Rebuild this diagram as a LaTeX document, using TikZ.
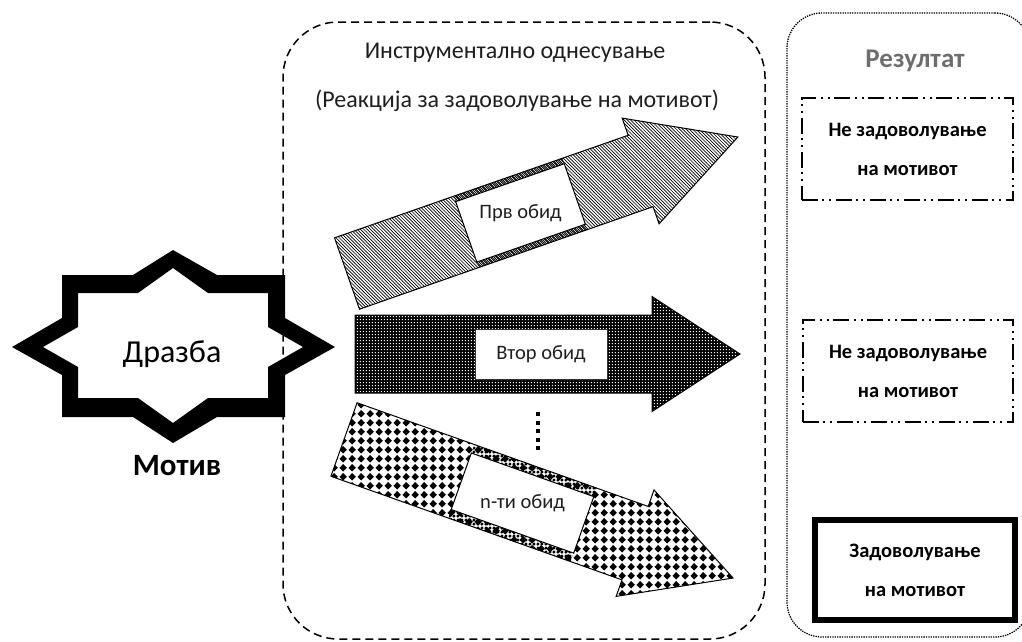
\documentclass[tikz,border=0pt]{standalone}
\usepackage{fontspec}
\setmainfont{Carlito}
\usetikzlibrary{patterns}

% dense back-slash hatching for the first attempt
\pgfdeclarepatternformonly{hatchNW}{\pgfqpoint{-1pt}{-1pt}}{\pgfqpoint{4.3pt}{4.3pt}}{\pgfqpoint{3.3pt}{3.3pt}}{%
  \pgfsetlinewidth{0.65pt}%
  \pgfpathmoveto{\pgfqpoint{0pt}{3.3pt}}%
  \pgfpathlineto{\pgfqpoint{3.4pt}{-0.1pt}}%
  \pgfusepath{stroke}}
% finer hatching for the band around the label
\pgfdeclarepatternformonly{hatchfine}{\pgfqpoint{-1pt}{-1pt}}{\pgfqpoint{3pt}{3pt}}{\pgfqpoint{2pt}{2pt}}{%
  \pgfsetlinewidth{0.4pt}%
  \pgfpathmoveto{\pgfqpoint{0pt}{2pt}}%
  \pgfpathlineto{\pgfqpoint{2.1pt}{-0.1pt}}%
  \pgfusepath{stroke}}
% square grid of small dots (used in white on black)
\pgfdeclarepatternformonly{dotgrid}{\pgfqpoint{0pt}{0pt}}{\pgfqpoint{3.4pt}{3.4pt}}{\pgfqpoint{3.4pt}{3.4pt}}{%
  \pgfpathrectangle{\pgfqpoint{1.1pt}{1.1pt}}{\pgfqpoint{1.2pt}{1.2pt}}%
  \pgfusepath{fill}}
% grid of black diamonds
\pgfdeclarepatternformonly{diamondgrid}{\pgfqpoint{0pt}{0pt}}{\pgfqpoint{8.7pt}{8.7pt}}{\pgfqpoint{8.7pt}{8.7pt}}{%
  \pgfpathmoveto{\pgfqpoint{4.35pt}{0.5pt}}%
  \pgfpathlineto{\pgfqpoint{8.2pt}{4.35pt}}%
  \pgfpathlineto{\pgfqpoint{4.35pt}{8.2pt}}%
  \pgfpathlineto{\pgfqpoint{0.5pt}{4.35pt}}%
  \pgfpathclose\pgfusepath{fill}}
\pgfdeclarepatternformonly{diamondfine}{\pgfqpoint{0pt}{0pt}}{\pgfqpoint{4.4pt}{4.4pt}}{\pgfqpoint{4.4pt}{4.4pt}}{%
  \pgfpathmoveto{\pgfqpoint{2.2pt}{0.3pt}}%
  \pgfpathlineto{\pgfqpoint{4.1pt}{2.2pt}}%
  \pgfpathlineto{\pgfqpoint{2.2pt}{4.1pt}}%
  \pgfpathlineto{\pgfqpoint{0.3pt}{2.2pt}}%
  \pgfpathclose\pgfusepath{fill}}

\definecolor{labelgray}{HTML}{6E6E6E}
\definecolor{ink}{HTML}{1E1E1E}

\tikzset{
  outline/.style={draw=black, line width=1pt, line join=miter},
  labelbox/.style={draw=black, line width=1pt, fill=white},
  armtext/.style={font=\fontsize{20.5}{24}\selectfont, text=ink, inner sep=0pt},
  headtext/.style={font=\fontsize{24}{28}\selectfont, text=ink, anchor=base, inner sep=0pt},
  resultbox/.style={font=\bfseries\fontsize{20.5}{39}\selectfont, align=center, text=black},
  altbox/.style={resultbox, draw=black, line width=1.8pt,
    dash pattern=on 16pt off 4pt on 2pt off 5pt on 2pt off 5pt},
  solidbox/.style={resultbox, draw=black, line width=6pt},
}

\begin{document}
\begin{tikzpicture}[x=1pt, y=-1pt]
\useasboundingbox (0,0) rectangle (1022,641);

% group frames
\node[draw=black, line width=1.5pt, dash pattern=on 8pt off 5pt, rounded corners=55pt,
      minimum width=482pt, minimum height=617pt, inner sep=0pt] (behaviour) at (524,330.5) {};
\node[draw=black, line width=1.3pt, dash pattern=on 1.3pt off 1.1pt, rounded corners=35pt,
      minimum width=243pt, minimum height=624pt, inner sep=0pt] (result) at (908.5,325) {};

% headings
\node[headtext] (instr) at (515,58) {Инструментално однесување};
\node[headtext] (reaction) at (517,107) {(Реакција за задоволување на мотивот)};
\node[anchor=base, inner sep=0pt, font=\bfseries\fontsize{27}{30}\selectfont, text=labelgray]
  (restitle) at (915,67) {Резултат};

% eight-pointed star with its labels
\fill[black, even odd rule]
  (12,347) -- (62,318) -- (62,275) -- (133,275) -- (173,250) -- (217,275) -- (285,275)
  -- (285,318) -- (335,347) -- (285,375) -- (285,417) -- (217,417) -- (173,443)
  -- (133,417) -- (62,417) -- (62,375) -- cycle
  (43,347) -- (78,327) -- (78,293) -- (138,293) -- (173,268) -- (208,293) -- (268,293)
  -- (268,327) -- (303,347) -- (268,367) -- (268,398) -- (208,398) -- (173,423)
  -- (138,398) -- (78,398) -- (78,367) -- cycle;
\node[anchor=base, inner sep=0pt, font=\fontsize{32}{36}\selectfont] (stimulus) at (172,362) {Дразба};
\node[anchor=base, inner sep=0pt, font=\bfseries\fontsize{31}{34}\selectfont] (motive) at (177,475) {Мотив};

% first attempt
\begin{scope}[shift={(347,273.5)}, rotate=19.25]
  \path[pattern=hatchNW] (0,-37.8) -- (311,-37.8) -- (311,-56) -- (414,0) -- (311,56) -- (311,37.8) -- (0,37.8) -- cycle;
  \path[pattern=hatchfine] (126.3,-37.8) rectangle (241.3,37.8);
  \draw[labelbox] (126.3,-32) rectangle (241.3,32);
  \draw[outline] (0,-37.8) -- (311,-37.8) -- (311,-56) -- (414,0) -- (311,56) -- (311,37.8) -- (0,37.8) -- cycle;
  \node[armtext] (first) at (183.8,0) {Прв обид};
\end{scope}

% second attempt
\begin{scope}[shift={(355,354)}]
  \path[fill=black, postaction={pattern=dotgrid, pattern color=white}]
    (0,-39) -- (297,-39) -- (297,-57.5) -- (385,0) -- (297,57.5) -- (297,39) -- (0,39) -- cycle;
  \draw[labelbox, draw=black!80] (120,-25) rectangle (252,25);
  \draw[outline] (0,-39) -- (297,-39) -- (297,-57.5) -- (385,0) -- (297,57.5) -- (297,39) -- (0,39) -- cycle;
  \node[armtext] (second) at (186,0) {Втор обид};
\end{scope}

% vertical ellipsis between the attempts
\coordinate (dotstop) at (538,412);
\coordinate (dotsbot) at (538,453);
\draw[line width=4.5pt, dash pattern=on 4pt off 4.5pt] (dotstop) -- (dotsbot);

% n-th attempt
\begin{scope}[shift={(344,439.5)}, rotate=-19.6]
  \path[pattern=diamondgrid] (0,-39) -- (309,-39) -- (309,-56.5) -- (413,0) -- (309,56.5) -- (309,39) -- (0,39) -- cycle;
  \path[pattern=diamondfine] (124.5,-39) rectangle (254.5,39);
  \draw[labelbox] (124.5,-30) rectangle (254.5,30);
  \draw[outline] (0,-39) -- (309,-39) -- (309,-56.5) -- (413,0) -- (309,56.5) -- (309,39) -- (0,39) -- cycle;
  \node[armtext] (nth) at (189.5,0) {n-ти обид};
\end{scope}

% outcomes
\node[altbox, minimum width=211pt, minimum height=102pt] (fail1) at (907.5,149) {Не задоволување\\на мотивот};
\node[altbox, minimum width=210pt, minimum height=102pt] (fail2) at (908,371) {Не задоволување\\на мотивот};
\node[solidbox, minimum width=200pt, minimum height=100pt] (success) at (915,570) {Задоволување\\на мотивот};
\end{tikzpicture}
\end{document}
